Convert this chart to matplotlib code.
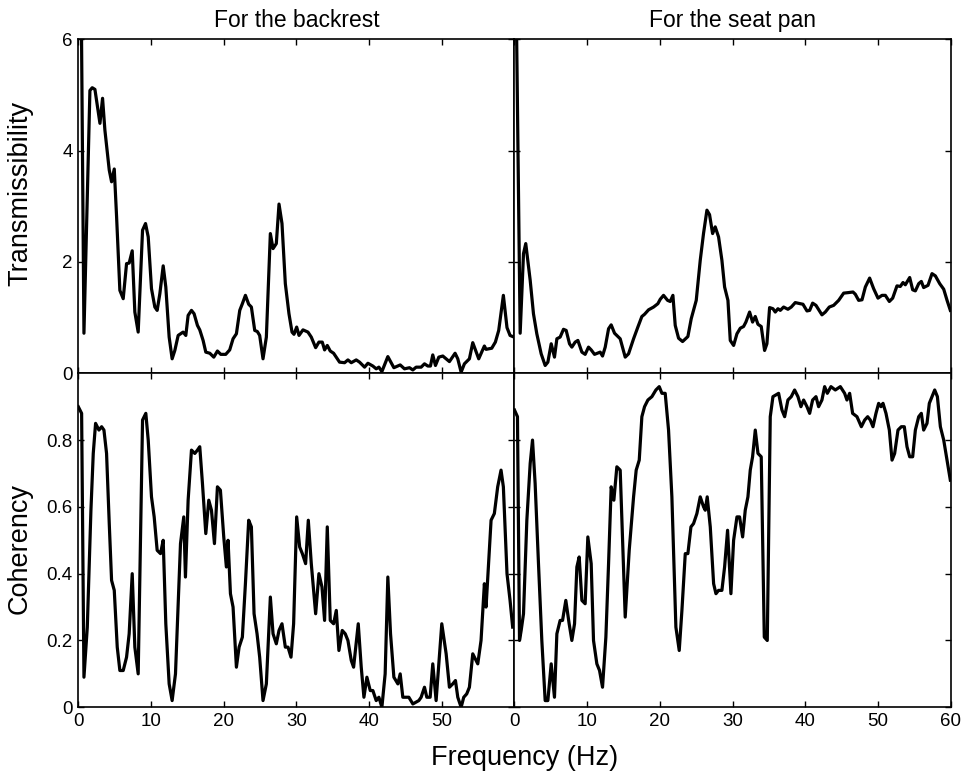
import matplotlib
matplotlib.use('Agg')
import matplotlib.pyplot as plt

plt.rcParams['font.family'] = ['Liberation Sans', 'DejaVu Sans']

# transmissibility, backrest
back_f = [0.0, 0.78, 1.6, 1.92, 2.29, 2.98, 3.34, 3.66, 4.26, 4.58, 4.95, 5.27, 5.72,
          6.18, 6.64, 7.0, 7.42, 7.78, 8.24, 8.84, 9.25, 9.62, 10.07, 10.53, 10.85, 11.22,
          11.68, 12.04, 12.5, 12.91, 13.28, 13.74, 14.42, 14.79, 15.11, 15.57, 15.93, 16.39,
          16.71, 17.17, 17.54, 18.09, 18.64, 19.14, 19.6, 20.28, 20.83, 21.29, 21.75, 22.21,
          22.57, 22.99, 23.44, 23.81, 24.27, 24.63, 24.95, 25.41, 25.87, 26.42, 26.79, 27.24,
          27.61, 28.02, 28.48, 28.98, 29.4, 29.67, 30.04, 30.36, 30.91, 31.59, 32.05, 32.65,
          33.1, 33.56, 33.88, 34.25, 34.66, 35.12, 35.94, 36.63, 37.09, 37.55, 38.23, 38.69,
          39.38, 39.84, 40.52, 40.98, 41.35, 41.76, 42.58, 43.41, 44.28, 44.87, 45.56, 46.02,
          46.47, 47.16, 47.62, 48.08, 48.44, 48.76, 49.13, 49.59, 50.14, 51.05, 51.83, 52.2,
          52.66, 53.11, 53.8, 54.26, 55.08, 55.86, 56.09, 56.87, 57.37, 57.83, 58.47, 58.97,
          59.39, 59.75]
back_T = [13.2, 0.72, 5.08, 5.13, 5.1, 4.49, 4.94, 4.37, 3.65, 3.44, 3.67, 2.81, 1.49,
          1.34, 1.97, 1.98, 2.2, 1.1, 0.74, 2.57, 2.69, 2.45, 1.52, 1.19, 1.13, 1.43,
          1.93, 1.55, 0.65, 0.26, 0.41, 0.68, 0.74, 0.68, 1.04, 1.13, 1.07, 0.86,
          0.78, 0.59, 0.38, 0.36, 0.29, 0.4, 0.34, 0.34, 0.42, 0.62, 0.71, 1.13,
          1.25, 1.4, 1.24, 1.19, 0.77, 0.75, 0.68, 0.26, 0.65, 2.51, 2.24, 2.33,
          3.04, 2.69, 1.61, 1.07, 0.74, 0.7, 0.83, 0.68, 0.78, 0.74, 0.65, 0.46,
          0.56, 0.56, 0.42, 0.5, 0.4, 0.36, 0.2, 0.19, 0.24, 0.19, 0.24, 0.2,
          0.11, 0.18, 0.13, 0.08, 0.11, 0.03, 0.3, 0.1, 0.15, 0.08, 0.1, 0.06,
          0.11, 0.11, 0.17, 0.13, 0.13, 0.33, 0.14, 0.29, 0.31, 0.21, 0.36, 0.26,
          0.02, 0.17, 0.26, 0.55, 0.26, 0.49, 0.43, 0.45, 0.56, 0.77, 1.4, 0.82,
          0.68, 0.66]

# transmissibility, seat pan
seat_f = [0.0, 0.78, 1.24, 1.55, 2.16, 2.61, 3.07, 3.67, 4.22, 4.59, 5.05, 5.5, 5.83,
          6.28, 6.74, 7.11, 7.57, 7.89, 8.35, 8.72, 9.27, 9.72, 10.18, 10.55, 11.01, 11.79,
          12.11, 12.48, 12.94, 13.3, 13.76, 14.54, 15.23, 15.69, 16.38, 16.97, 17.52, 17.89,
          18.44, 19.13, 19.72, 20.05, 20.5, 21.06, 21.42, 21.79, 22.11, 22.57, 23.12, 23.85,
          24.31, 25.0, 25.55, 26.0, 26.47, 26.83, 27.25, 27.61, 28.07, 28.53, 28.9, 29.36,
          29.68, 30.14, 30.6, 31.06, 31.51, 31.83, 32.34, 32.75, 33.12, 33.49, 33.94, 34.4,
          34.72, 35.09, 35.55, 35.87, 36.24, 36.56, 37.02, 37.61, 38.07, 38.62, 39.31, 39.68,
          40.23, 40.6, 41.01, 41.47, 42.29, 42.75, 43.3, 43.9, 44.59, 45.28, 45.96, 46.56,
          46.88, 47.34, 47.8, 48.26, 48.85, 49.4, 50.0, 50.55, 51.01, 51.56, 52.02, 52.61,
          53.07, 53.44, 53.76, 54.36, 54.77, 55.14, 55.6, 55.96, 56.28, 56.88, 57.43, 57.89,
          58.49, 59.04, 59.5, 59.95]
seat_T = [9.3, 0.72, 2.15, 2.33, 1.67, 1.07, 0.71, 0.35, 0.14, 0.2, 0.53, 0.29, 0.62,
          0.65, 0.79, 0.77, 0.53, 0.47, 0.56, 0.59, 0.38, 0.34, 0.47, 0.42, 0.34, 0.38,
          0.31, 0.47, 0.8, 0.87, 0.72, 0.62, 0.29, 0.35, 0.62, 0.83, 1.02, 1.06,
          1.14, 1.19, 1.25, 1.33, 1.4, 1.31, 1.29, 1.4, 0.86, 0.63, 0.57, 0.66,
          0.98, 1.31, 2.03, 2.51, 2.93, 2.85, 2.51, 2.63, 2.45, 2.03, 1.55, 1.31,
          0.59, 0.5, 0.71, 0.81, 0.84, 0.92, 1.1, 0.92, 1.02, 0.88, 0.84, 0.41,
          0.53, 1.18, 1.16, 1.1, 1.16, 1.13, 1.19, 1.15, 1.19, 1.27, 1.25, 1.24,
          1.12, 1.13, 1.26, 1.22, 1.05, 1.1, 1.19, 1.22, 1.31, 1.44, 1.45, 1.46,
          1.42, 1.31, 1.32, 1.55, 1.71, 1.52, 1.35, 1.4, 1.4, 1.29, 1.35, 1.57,
          1.56, 1.63, 1.59, 1.72, 1.5, 1.48, 1.61, 1.65, 1.54, 1.58, 1.79, 1.75,
          1.61, 1.51, 1.31, 1.13]

# coherency, backrest
back_cf = [0.0, 0.46, 0.78, 1.24, 1.74, 2.06, 2.38, 2.84, 3.21, 3.53, 3.89, 4.26, 4.58, 4.95,
           5.36, 5.72, 6.18, 6.64, 7.0, 7.42, 7.78, 8.24, 8.84, 9.29, 9.62, 10.07, 10.44,
           10.85, 11.31, 11.68, 12.04, 12.5, 12.91, 13.37, 14.06, 14.51, 14.74, 15.11, 15.57,
           16.03, 16.39, 16.71, 17.08, 17.54, 17.95, 18.32, 18.73, 19.14, 19.55, 20.01, 20.37,
           20.6, 20.93, 21.29, 21.75, 22.12, 22.57, 22.99, 23.44, 23.81, 24.18, 24.59, 24.95,
           25.41, 25.87, 26.42, 26.79, 27.24, 27.61, 28.02, 28.48, 28.85, 29.26, 29.62, 30.04,
           30.45, 30.82, 31.27, 31.64, 32.05, 32.65, 33.1, 33.52, 33.88, 34.25, 34.66, 35.12,
           35.49, 35.85, 36.31, 36.72, 37.09, 37.55, 37.87, 38.51, 38.92, 39.29, 39.7, 40.16,
           40.52, 40.98, 41.35, 41.76, 42.21, 42.58, 42.95, 43.41, 43.96, 44.28, 44.64, 45.47,
           46.02, 46.84, 47.16, 47.62, 47.94, 48.4, 48.76, 49.22, 49.59, 50.0, 50.6, 51.05,
           51.51, 51.88, 52.2, 52.66, 53.02, 53.43, 53.8, 54.26, 54.95, 55.4, 55.86, 56.09,
           56.46, 56.78, 57.23, 57.69, 58.15, 58.47, 58.97, 59.39, 59.75]
back_coh = [0.9, 0.88, 0.09, 0.24, 0.59, 0.76, 0.85, 0.83, 0.84, 0.83, 0.76, 0.55, 0.38, 0.35,
            0.18, 0.11, 0.11, 0.15, 0.22, 0.4, 0.18, 0.1, 0.86, 0.88, 0.8, 0.63, 0.57,
            0.47, 0.46, 0.5, 0.25, 0.07, 0.02, 0.1, 0.49, 0.57, 0.39, 0.62, 0.77,
            0.76, 0.77, 0.78, 0.67, 0.52, 0.62, 0.59, 0.49, 0.66, 0.65, 0.51, 0.42,
            0.5, 0.34, 0.3, 0.12, 0.18, 0.21, 0.37, 0.56, 0.54, 0.28, 0.22, 0.15,
            0.02, 0.07, 0.33, 0.22, 0.19, 0.23, 0.25, 0.18, 0.18, 0.15, 0.25, 0.57,
            0.48, 0.46, 0.43, 0.56, 0.43, 0.28, 0.4, 0.36, 0.26, 0.54, 0.26, 0.25,
            0.29, 0.17, 0.23, 0.22, 0.2, 0.14, 0.12, 0.25, 0.12, 0.03, 0.09, 0.05,
            0.05, 0.02, 0.03, 0.0, 0.1, 0.39, 0.22, 0.09, 0.07, 0.1, 0.03, 0.03,
            0.01, 0.02, 0.03, 0.06, 0.03, 0.03, 0.13, 0.02, 0.13, 0.25, 0.16, 0.06,
            0.07, 0.08, 0.03, 0.0, 0.03, 0.04, 0.06, 0.16, 0.13, 0.2, 0.37, 0.3,
            0.44, 0.56, 0.58, 0.66, 0.71, 0.66, 0.4, 0.32, 0.24]

# coherency, seat pan
seat_cf = [0.0, 0.41, 0.69, 0.92, 1.24, 1.7, 2.16, 2.48, 2.84, 3.3, 3.76, 4.22, 4.59, 5.05,
           5.5, 5.83, 6.28, 6.61, 7.06, 7.52, 7.89, 8.26, 8.58, 8.9, 9.27, 9.72, 10.09,
           10.55, 10.87, 11.33, 11.7, 12.11, 12.57, 12.94, 13.3, 13.67, 14.08, 14.54, 15.23,
           15.78, 16.38, 16.74, 17.16, 17.52, 17.89, 18.35, 18.9, 19.45, 19.91, 20.28, 20.73,
           21.19, 21.65, 22.2, 22.66, 23.03, 23.49, 23.85, 24.27, 24.63, 25.09, 25.55, 26.01,
           26.24, 26.51, 26.93, 27.39, 27.71, 28.07, 28.53, 28.9, 29.31, 29.77, 30.14, 30.6,
           30.96, 31.38, 31.74, 32.11, 32.43, 32.75, 33.12, 33.49, 33.94, 34.36, 34.77, 35.18,
           35.55, 36.33, 36.79, 37.16, 37.61, 38.07, 38.53, 38.99, 39.4, 39.77, 40.23, 40.6,
           41.01, 41.47, 41.83, 42.29, 42.66, 43.03, 43.53, 44.13, 44.82, 45.41, 45.73, 46.1,
           46.51, 47.11, 47.71, 48.17, 48.58, 48.94, 49.31, 49.72, 50.09, 50.41, 50.69, 51.1,
           51.56, 51.93, 52.29, 52.75, 53.21, 53.62, 53.99, 54.36, 54.77, 55.14, 55.6, 55.96,
           56.28, 56.74, 57.06, 57.43, 57.8, 58.17, 58.58, 59.04, 59.5, 59.95]
seat_coh = [0.89, 0.87, 0.2, 0.23, 0.28, 0.56, 0.73, 0.8, 0.67, 0.43, 0.2, 0.02, 0.02, 0.13,
            0.03, 0.22, 0.26, 0.26, 0.32, 0.25, 0.2, 0.25, 0.42, 0.45, 0.32, 0.31, 0.51,
            0.43, 0.2, 0.13, 0.11, 0.06, 0.21, 0.43, 0.66, 0.62, 0.72, 0.71, 0.27,
            0.47, 0.63, 0.71, 0.74, 0.87, 0.9, 0.92, 0.93, 0.95, 0.96, 0.94, 0.94,
            0.83, 0.63, 0.24, 0.17, 0.29, 0.46, 0.46, 0.54, 0.55, 0.58, 0.63, 0.6,
            0.59, 0.63, 0.54, 0.37, 0.34, 0.35, 0.35, 0.42, 0.53, 0.34, 0.5, 0.57,
            0.57, 0.51, 0.59, 0.63, 0.71, 0.75, 0.83, 0.76, 0.75, 0.21, 0.2, 0.87,
            0.93, 0.94, 0.89, 0.87, 0.92, 0.93, 0.95, 0.93, 0.9, 0.92, 0.9, 0.88,
            0.92, 0.93, 0.9, 0.92, 0.96, 0.94, 0.96, 0.95, 0.96, 0.94, 0.92, 0.94,
            0.88, 0.87, 0.84, 0.86, 0.87, 0.86, 0.84, 0.88, 0.91, 0.9, 0.91, 0.88,
            0.83, 0.74, 0.76, 0.83, 0.84, 0.84, 0.78, 0.75, 0.75, 0.83, 0.87, 0.88,
            0.83, 0.85, 0.91, 0.93, 0.95, 0.93, 0.84, 0.8, 0.74, 0.68]

col_titles = ['For the backrest', 'For the seat pan']
x_ticks = [0, 10, 20, 30, 40, 50, 60]
t_ticks = [0, 2, 4, 6]
c_ticks = [0, 0.2, 0.4, 0.6, 0.8]
c_labels = ['0', '0.2', '0.4', '0.6', '0.8']

fig, axes = plt.subplots(2, 2, figsize=(9.64, 7.75), dpi=100)
fig.subplots_adjust(left=0.0812, right=0.9862, bottom=0.0874, top=0.9493,
                    wspace=0, hspace=0)

series = [[(back_f, back_T), (seat_f, seat_T)],
          [(back_cf, back_coh), (seat_cf, seat_coh)]]

for r in range(2):
    for c in range(2):
        ax = axes[r, c]
        xs, ys = series[r][c]
        ax.plot(xs, ys, color='black', lw=2.3)
        ax.set_xlim(0, 60)
        ax.set_xticks(x_ticks)
        if r == 0:
            ax.set_ylim(0, 6)
            ax.set_yticks(t_ticks)
            ax.set_yticklabels([str(t) for t in t_ticks])
            ax.set_xticklabels([])
            ax.set_title(col_titles[c], fontsize=16.5, pad=9)
        else:
            ax.set_ylim(0, 1.0)
            ax.set_yticks(c_ticks)
            ax.set_yticklabels(c_labels)
            if c == 0:
                ax.set_xticklabels(['0', '10', '20', '30', '40', '50', ''])
            else:
                ax.set_xticklabels([str(t) for t in x_ticks])
        if c == 1:
            ax.set_yticklabels([])
        ax.tick_params(direction='in', top=True, right=True, length=4,
                       width=1, labelsize=13.5, pad=4)
        for sp in ax.spines.values():
            sp.set_linewidth(1.2)

fig.text(20 / 964, 1 - 193.5 / 775, 'Transmissibility', rotation=90,
         ha='center', va='center', fontsize=19.5)
fig.text(20 / 964, 1 - 548 / 775, 'Coherency', rotation=90,
         ha='center', va='center', fontsize=19.5)
fig.text(525 / 964, 1 - 758 / 775, 'Frequency (Hz)', ha='center', va='center',
         fontsize=19.5)

fig.savefig('out.png', dpi=100)
